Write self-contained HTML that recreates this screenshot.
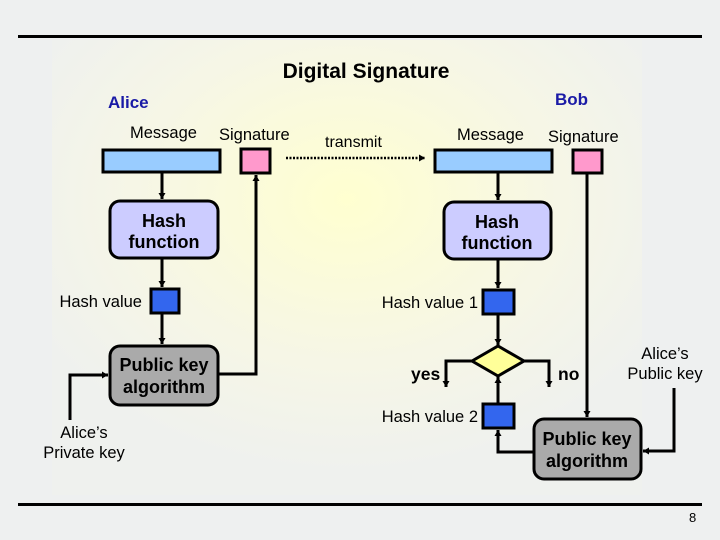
<!DOCTYPE html>
<html><head><meta charset="utf-8"><style>
html,body{margin:0;padding:0;width:720px;height:540px;overflow:hidden;background:#eef0f0}
svg{display:block}
text{font-family:"Liberation Sans",Arial,sans-serif}
</style></head><body>
<svg width="720" height="540" viewBox="0 0 720 540" xmlns="http://www.w3.org/2000/svg">
<defs>
<radialGradient id="bg" cx="0.5" cy="0.35" r="0.6">
<stop offset="0" stop-color="#ffffd0"/>
<stop offset="0.6" stop-color="#f6f6e6"/>
<stop offset="1" stop-color="#eff1ee"/>
</radialGradient>
<marker id="a" markerWidth="7" markerHeight="7" refX="6" refY="3.5" orient="auto" markerUnits="userSpaceOnUse">
<path d="M0,0 L6,3.5 L0,7 z" fill="#000"/>
</marker>
</defs>
<rect x="0" y="0" width="720" height="540" fill="#eef0f0"/>
<rect x="52" y="40" width="590" height="455" fill="url(#bg)"/>
<rect x="18" y="35" width="684" height="3" fill="#000"/>
<rect x="18" y="503" width="684" height="3" fill="#000"/>

<text x="366" y="78" font-size="21" font-weight="bold" text-anchor="middle" fill="#000">Digital Signature</text>
<text x="108" y="108" font-size="17" font-weight="bold" fill="#1a1aa6">Alice</text>
<text x="555" y="105" font-size="17" font-weight="bold" fill="#1a1aa6">Bob</text>

<g font-size="16.5" fill="#000">
<text x="130" y="138">Message</text>
<text x="219" y="140">Signature</text>
<text x="457" y="140">Message</text>
<text x="548" y="142">Signature</text>
</g>
<text x="325" y="147" font-size="16" fill="#000">transmit</text>

<g stroke="#000" stroke-width="3">
<rect x="103" y="150" width="117" height="22" fill="#99ccff"/>
<rect x="241" y="149" width="29" height="24" fill="#ff99cc"/>
<rect x="435" y="150" width="117" height="22" fill="#99ccff"/>
<rect x="573" y="150" width="29" height="23" fill="#ff99cc"/>
</g>
<line x1="286" y1="158" x2="425" y2="158" stroke="#000" stroke-width="2.5" stroke-dasharray="2,1.5" marker-end="url(#a)"/>

<g stroke="#000" stroke-width="3">
<rect x="110" y="201" width="108" height="57" rx="10" fill="#ccccff"/>
<rect x="444" y="202" width="107" height="57" rx="10" fill="#ccccff"/>
<rect x="151" y="289" width="28" height="24" fill="#3366ee"/>
<rect x="483" y="290" width="31" height="24" fill="#3366ee"/>
<rect x="483" y="404" width="31" height="24" fill="#3366ee"/>
<rect x="110" y="346" width="108" height="59" rx="10" fill="#aaaaaa"/>
<rect x="534" y="419" width="107" height="60" rx="10" fill="#aaaaaa"/>
<path d="M472,361 L498,346 L524,361 L498,376 Z" fill="#ffff99"/>
</g>

<g font-size="18" font-weight="bold" fill="#000" text-anchor="middle">
<text x="164" y="227">Hash</text>
<text x="164" y="248">function</text>
<text x="497" y="228">Hash</text>
<text x="497" y="249">function</text>
<text x="164" y="371">Public key</text>
<text x="164" y="393">algorithm</text>
<text x="587" y="445">Public key</text>
<text x="587" y="467">algorithm</text>
</g>
<g font-size="17.5" font-weight="bold" fill="#000">
<text x="411" y="380">yes</text>
<text x="558" y="380">no</text>
</g>
<g font-size="16.5" fill="#000">
<text x="142" y="307" text-anchor="end">Hash value</text>
<text x="478" y="308" text-anchor="end">Hash value 1</text>
<text x="478" y="422" text-anchor="end">Hash value 2</text>
<text x="84" y="438" text-anchor="middle">Alice’s</text>
<text x="84" y="458" text-anchor="middle">Private key</text>
<text x="665" y="359" text-anchor="middle">Alice’s</text>
<text x="665" y="379" text-anchor="middle">Public key</text>
</g>
<text x="689" y="522" font-size="13" fill="#000">8</text>

<g stroke="#000" stroke-width="3" fill="none" marker-end="url(#a)">
<line x1="162" y1="173" x2="162" y2="199"/>
<line x1="162" y1="259" x2="162" y2="287"/>
<line x1="162" y1="314" x2="162" y2="344"/>
<path d="M219,374 L256,374 L256,175"/>
<path d="M70,420 L70,375 L108,375"/>
<line x1="498" y1="173" x2="498" y2="200"/>
<line x1="498" y1="260" x2="498" y2="288"/>
<line x1="498" y1="315" x2="498" y2="345"/>
<path d="M472,361 L446,361 L446,387"/>
<path d="M524,361 L549,361 L549,387"/>
<line x1="498" y1="403" x2="498" y2="377"/>
<path d="M533,452 L498,452 L498,430"/>
<line x1="587" y1="174" x2="587" y2="417"/>
<path d="M674,388 L674,451 L643,451"/>
</g>
</svg>
</body></html>
